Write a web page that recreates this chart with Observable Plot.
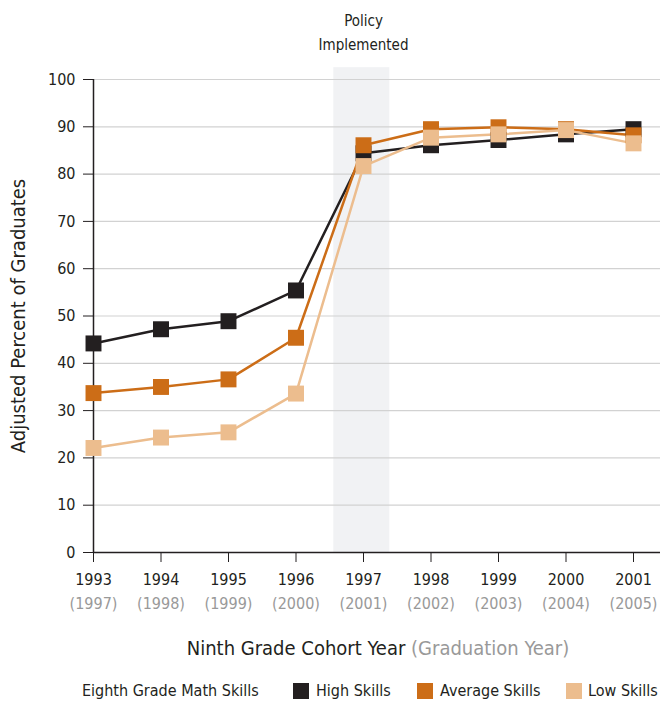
<!DOCTYPE html>
<html><head><meta charset="utf-8">
<script src="https://cdn.jsdelivr.net/npm/d3@7"></script>
<script src="https://cdn.jsdelivr.net/npm/@observablehq/plot@0.6"></script>
<style>
body{margin:0;background:#fff;font-family:"Liberation Sans Narrow","DejaVu Sans Condensed","Roboto",sans-serif;color:#231f20;}
#chart svg{display:block;}
#legend{position:relative;height:32px;font-size:16px;}
#legend span{position:absolute;top:12px;line-height:18px;white-space:nowrap;}
#legend .sw{width:16px;height:16px;top:13px;}
</style></head><body>
<div id="chart"></div>
<div id="legend"></div>
<script>
const cohortYears = [1993, 1994, 1995, 1996, 1997, 1998, 1999, 2000, 2001];
const gradYears = [1997, 1998, 1999, 2000, 2001, 2002, 2003, 2004, 2005];
const highSkills = [44.2, 47.2, 48.9, 55.4, 84.4, 86.1, 87.2, 88.4, 89.5];
const averageSkills = [33.7, 35.0, 36.6, 45.4, 86.1, 89.5, 89.9, 89.5, 88.2];
const lowSkills = [22.1, 24.3, 25.4, 33.6, 81.7, 87.7, 88.4, 89.3, 86.5];
const seriesNames = ["High Skills", "Average Skills", "Low Skills"];
const seriesColors = ["#231f20", "#cc6d17", "#ecbd8e"];
const yTicks = [0, 10, 20, 30, 40, 50, 60, 70, 80, 90, 100];
const policyYear = 1997;
const policyLabel = "Policy\nImplemented";
const legendTitle = "Eighth Grade Math Skills";
const xTitle = "Ninth Grade Cohort Year";
const xSubTitle = "(Graduation Year)";
const yTitle = "Adjusted Percent of Graduates";

const seriesValues = [highSkills, averageSkills, lowSkills];
const data = seriesNames.flatMap((s, i) => cohortYears.map((yr, j) => ({series: s, year: yr, value: seriesValues[i][j]})));
const gradOf = new Map(cohortYears.map((c, i) => [c, gradYears[i]]));

const W = 660, H = 670;
const font = '"Liberation Sans Narrow","DejaVu Sans Condensed","Roboto",sans-serif';

const chart = Plot.plot({
  width: W, height: H,
  marginLeft: 93, marginRight: 0, marginTop: 79, marginBottom: H - 552,
  style: {fontFamily: font, fontSize: "16px", color: "#231f20", background: "#fff"},
  x: {domain: [1993, 2001.4]},
  y: {domain: [0, 100]},
  color: {domain: seriesNames, range: seriesColors},
  marks: [
    Plot.rect([policyYear], {x1: d => d - 0.44, x2: d => d + 0.39, y1: 0, y2: 102.5, fill: "#f1f2f4"}),
    Plot.gridY({ticks: yTicks, stroke: "#d2d2d2", strokeOpacity: 1, strokeWidth: 1.2}),
    Plot.axisY({ticks: yTicks, tickSize: 10, tickPadding: 8, fontSize: 16, label: null, stroke: "#231f20"}),
    Plot.axisX({ticks: cohortYears, tickSize: 10, tickPadding: 11, tickFormat: d => String(d), fontSize: 16, label: null, stroke: "#231f20", fill: "#231f20"}),
    Plot.axisX({ticks: cohortYears, tickSize: 0, tickPadding: 45, tickFormat: d => `(${gradOf.get(d)})`, fontSize: 16, label: null, fill: "#999999"}),
    Plot.ruleX([1993], {y1: 0, y2: 100, stroke: "#231f20", strokeWidth: 1.5}),
    Plot.ruleY([0], {stroke: "#231f20", strokeWidth: 1.5}),
    Plot.text([policyLabel], {x: policyYear, frameAnchor: "top", lineAnchor: "bottom", dy: -30, lineHeight: 1.6, fontSize: 15, fill: "#231f20"}),
    Plot.text([yTitle], {frameAnchor: "left", textAnchor: "middle", rotate: -90, dx: -75, fontSize: 20, fill: "#231f20"}),
    Plot.line(data, {x: "year", y: "value", z: "series", stroke: "series", strokeWidth: 2.5}),
    Plot.dot(data, {x: "year", y: "value", fill: "series", symbol: "square", r: 9})
  ]
});
document.getElementById("chart").appendChild(chart);

// x-axis title with two tones
const svg = d3.select(chart);
const t = svg.append("text").attr("x", 378).attr("y", 655).attr("text-anchor", "middle")
  .attr("font-size", 20).attr("font-family", font);
t.append("tspan").attr("fill", "#231f20").text(xTitle + " ");
t.append("tspan").attr("fill", "#999999").text(xSubTitle);

// legend
const lg = d3.select("#legend");
const items = [
  {text: legendTitle, left: 82},
  {sw: seriesColors[0], left: 293}, {text: seriesNames[0], left: 316},
  {sw: seriesColors[1], left: 417}, {text: seriesNames[1], left: 440},
  {sw: seriesColors[2], left: 566}, {text: seriesNames[2], left: 588}
];
for (const it of items) {
  const s = lg.append("span").style("left", it.left + "px");
  if (it.sw) s.attr("class", "sw").style("background", it.sw);
  else s.text(it.text);
}
</script>
</body></html>
